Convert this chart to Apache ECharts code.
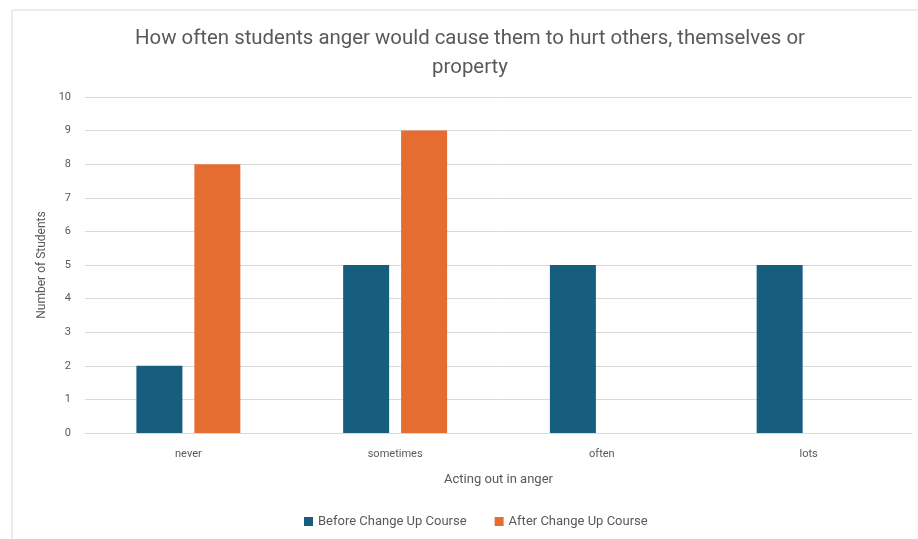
<!DOCTYPE html>
<html><head><meta charset="utf-8">
<script src="https://cdn.jsdelivr.net/npm/echarts@6/dist/echarts.min.js"></script>
<style>html,body{margin:0;padding:0;background:#fff}#c{width:918px;height:539px}</style>
</head><body><div id="c"></div>
<script>
const categories = ['never', 'sometimes', 'often', 'lots'];
const beforeValues = [2, 5, 5, 5];
const afterValues = [8, 9, 0, 0];
const yTicks = [0, 1, 2, 3, 4, 5, 6, 7, 8, 9, 10];
const seriesNames = ['Before Change Up Course', 'After Change Up Course'];

const FONT = 'Roboto';
const chart = echarts.init(document.getElementById('c'));
chart.setOption({
  animation: false,
  textStyle: { fontFamily: FONT },
  graphic: [{ type: 'rect', shape: { x: 12, y: 10, width: 920, height: 540 }, style: { fill: 'none', stroke: '#d9d9d9', lineWidth: 1 } }],
  title: {
    text: 'How often students anger would cause them to hurt others, themselves or\nproperty',
    left: 465, top: 19, textAlign: 'center',
    textStyle: { fontFamily: FONT, fontSize: 20.4, fontWeight: 'normal', color: '#595959', lineHeight: 29 }
  },
  legend: {
    bottom: 6, left: 299, itemWidth: 9, itemHeight: 9, itemGap: 28,
    icon: 'rect',
    textStyle: { fontFamily: FONT, fontSize: 13, color: '#595959' }
  },
  grid: { left: 85, right: 6, top: 97, bottom: 106, containLabel: false },
  xAxis: {
    type: 'category', data: categories,
    name: 'Acting out in anger', nameLocation: 'middle', nameGap: 40,
    nameTextStyle: { fontSize: 13, color: '#595959' },
    axisLine: { lineStyle: { color: '#d9d9d9' } },
    axisTick: { show: false },
    axisLabel: { color: '#595959', fontSize: 11, margin: 16 }
  },
  yAxis: {
    type: 'value', min: 0, max: 10, interval: 1,
    name: 'Number of Students', nameLocation: 'middle', nameGap: 35,
    nameTextStyle: { fontSize: 12, color: '#595959' },
    axisLabel: { color: '#595959', fontSize: 11, margin: 14, formatter: v => yTicks.includes(v) ? String(v) : '' },
    splitLine: { lineStyle: { color: '#d9d9d9' } },
    axisLine: { show: false }, axisTick: { show: false }
  },
  series: [
    { name: seriesNames[0], type: 'bar', data: beforeValues, barWidth: 46, barGap: '26%', itemStyle: { color: '#175d7e' } },
    { name: seriesNames[1], type: 'bar', data: afterValues, barWidth: 46, itemStyle: { color: '#e66d31' } }
  ]
});
</script></body></html>
